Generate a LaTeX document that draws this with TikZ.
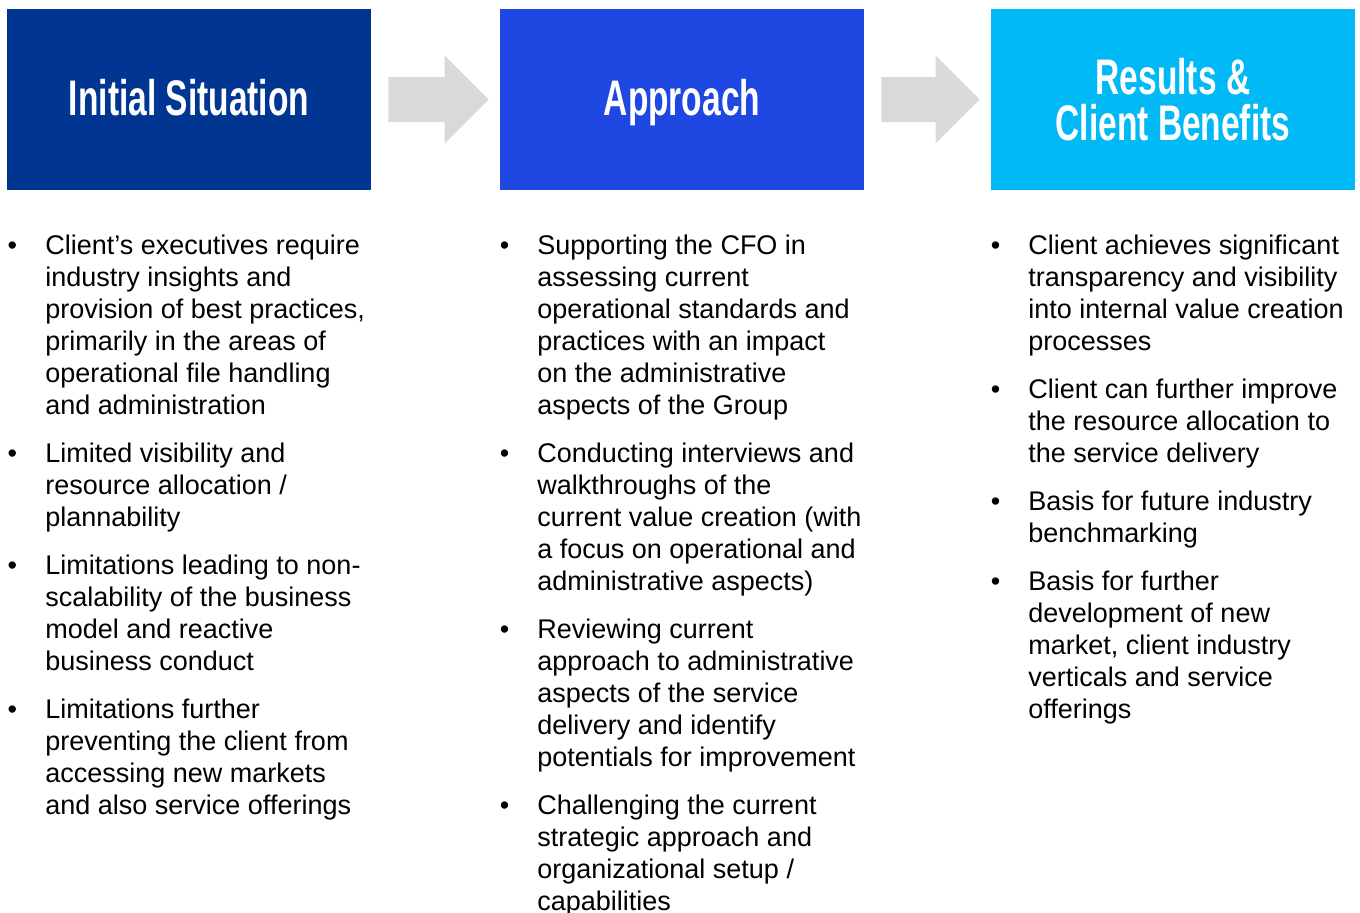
\documentclass[tikz,border=0pt]{standalone}
\usepackage{fontspec}
\usepackage{xcolor}
\usepackage{tikz}
\usetikzlibrary{calc}
\setmainfont{Liberation Sans}

\definecolor{sitblue}{RGB}{0,53,145}
\definecolor{appblue}{RGB}{31,72,226}
\definecolor{resblue}{RGB}{0,185,245}
\definecolor{arrowgray}{RGB}{217,217,217}

\newcommand{\cond}[1]{\scalebox{0.67}[1]{#1}}
\newcommand{\itm}{\llap{\textbullet\hspace{14.1pt}}}

\tikzset{
  headbox/.style={rectangle, inner sep=0pt, minimum width=182pt, minimum height=90.5pt},
  headtext/.style={anchor=base, inner sep=0pt, text=white, align=center, font=\fontsize{25}{23}\selectfont\bfseries},
  point/.style={anchor=base west, inner sep=0pt, align=left, font=\fontsize{13.5}{16}\selectfont}
}

\begin{document}
\begin{tikzpicture}[x=0.5pt, y=-0.5pt]
            \useasboundingbox (0,0) rectangle (1360,912);

            % header boxes
            \node[headbox, fill=sitblue] (sitbox) at (189,99.5) {};
            \node[headbox, fill=appblue] (appbox) at (682,99.5) {};
            \node[headbox, fill=resblue] (resbox) at (1173,99.5) {};

            % titles sit on their last baseline
            \node[headtext] (sittitle) at ($(sitbox.center)+(0,15.5)$) {\cond{Initial Situation}};
            \node[headtext] (apptitle) at ($(appbox.center)+(0,15.5)$) {\cond{Approach}};
            \node[headtext] (restitle) at ($(resbox.center)+(0,40.5)$) {\cond{Results \&}\\\cond{Client Benefits}};

            % grey arrows between the boxes
            \foreach \a/\b in {sitbox/appbox, appbox/resbox}
                \fill[arrowgray] ($(\a.east)+(17,-22.5)$) -- ($(\b.west)+(-55,-22.5)$) -- ($(\b.west)+(-55,-44)$)
                    -- ($(\b.west)+(-11,0)$) -- ($(\b.west)+(-55,44)$) -- ($(\b.west)+(-55,22.5)$)
                    -- ($(\a.east)+(17,22.5)$) -- cycle;

            % initial situation (y = baseline of the last line)
            \node[point] (sit1) at (45,414) {\itm Client’s executives require\\industry insights and\\provision of best practices,\\primarily in the areas of\\operational file handling\\and administration};
            \node[point] (sit2) at (45,526) {\itm Limited visibility and\\resource allocation /\\plannability};
            \node[point] (sit3) at (45,670) {\itm Limitations leading to non-\\scalability of the business\\model and reactive\\business conduct};
            \node[point] (sit4) at (45,814) {\itm Limitations further\\preventing the client from\\accessing new markets\\and also service offerings};

            % approach
            \node[point] (app1) at (537,414) {\itm Supporting the CFO in\\assessing current\\operational standards and\\practices with an impact\\on the administrative\\aspects of the Group};
            \node[point] (app2) at (537,590) {\itm Conducting interviews and\\walkthroughs of the\\current value creation (with\\a focus on operational and\\administrative aspects)};
            \node[point] (app3) at (537,766) {\itm Reviewing current\\approach to administrative\\aspects of the service\\delivery and identify\\potentials for improvement};
            \node[point] (app4) at (537,910) {\itm Challenging the current\\strategic approach and\\organizational setup /\\capabilities};

            % results
            \node[point] (res1) at (1028,350) {\itm Client achieves significant\\transparency and visibility\\into internal value creation\\processes};
            \node[point] (res2) at (1028,462) {\itm Client can further improve\\the resource allocation to\\the service delivery};
            \node[point] (res3) at (1028,542) {\itm Basis for future industry\\benchmarking};
            \node[point] (res4) at (1028,718) {\itm Basis for further\\development of new\\market, client industry\\verticals and service\\offerings};
        \end{tikzpicture}
\end{document}
